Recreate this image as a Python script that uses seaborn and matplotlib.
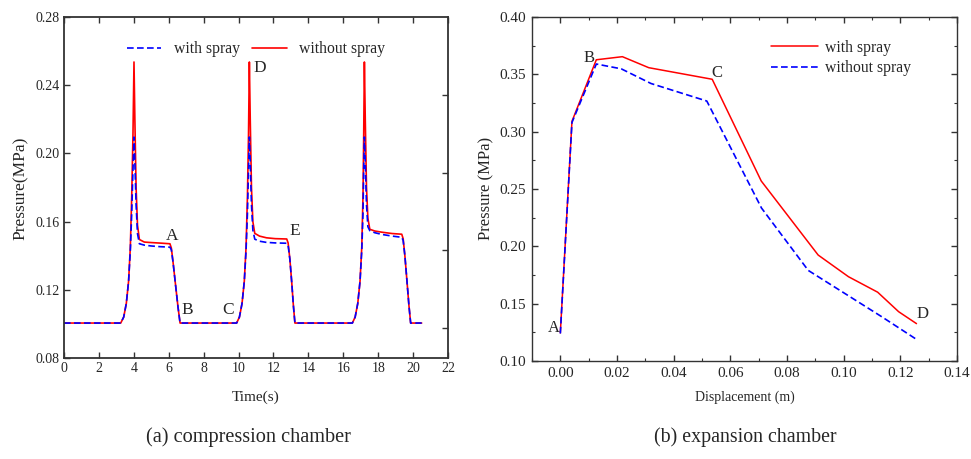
import numpy as np
import pandas as pd
import matplotlib
matplotlib.use("Agg")
import matplotlib.pyplot as plt
from matplotlib.lines import Line2D
from matplotlib.ticker import MultipleLocator
import seaborn as sns

# (a) 압축실: 사이클별 시간/압력
t1 = [0, 3.25, 3.42, 3.57, 3.70, 3.80, 3.88, 3.95, 4.01, 4.06, 4.13, 4.21, 4.32, 4.6, 5.0, 5.5, 6.07, 6.15, 6.25, 6.40, 6.53, 6.65]
red1 = [0.1005, 0.1005, 0.104, 0.112, 0.125, 0.145, 0.175, 0.21, 0.2536, 0.22, 0.18, 0.158, 0.1495, 0.148, 0.1477, 0.1474, 0.147, 0.1445, 0.136, 0.122, 0.110, 0.1005]
blue1 = [0.1005, 0.1005, 0.104, 0.112, 0.125, 0.143, 0.165, 0.19, 0.2096, 0.195, 0.17, 0.153, 0.147, 0.1462, 0.1457, 0.1453, 0.145, 0.1435, 0.136, 0.122, 0.110, 0.1005]

t2 = [9.89, 10.05, 10.2, 10.33, 10.43, 10.51, 10.57, 10.62, 10.67, 10.74, 10.82, 10.93, 11.2, 11.6, 12.1, 12.76, 12.84, 12.94, 13.05, 13.14, 13.23]
red2 = [0.1005, 0.104, 0.112, 0.125, 0.145, 0.175, 0.21, 0.2536, 0.22, 0.18, 0.16, 0.1531, 0.1515, 0.1505, 0.150, 0.1498, 0.1475, 0.138, 0.124, 0.111, 0.1005]
blue2 = [0.1005, 0.104, 0.112, 0.125, 0.143, 0.165, 0.19, 0.2096, 0.195, 0.17, 0.155, 0.1497, 0.1485, 0.1478, 0.1475, 0.1473, 0.146, 0.138, 0.124, 0.111, 0.1005]

t3 = [16.52, 16.68, 16.83, 16.96, 17.06, 17.13, 17.17, 17.21, 17.26, 17.33, 17.41, 17.52, 17.8, 18.2, 18.8, 19.35, 19.43, 19.53, 19.65, 19.76, 19.86, 20.49]
red3 = [0.1005, 0.104, 0.112, 0.125, 0.145, 0.175, 0.21, 0.2536, 0.22, 0.18, 0.162, 0.1555, 0.1545, 0.1538, 0.153, 0.1526, 0.150, 0.140, 0.125, 0.111, 0.1005, 0.1005]
blue3 = [0.1005, 0.104, 0.112, 0.125, 0.143, 0.165, 0.19, 0.2096, 0.195, 0.17, 0.157, 0.1547, 0.1535, 0.1525, 0.1515, 0.1508, 0.149, 0.140, 0.125, 0.111, 0.1005, 0.1005]

# (b) 팽창실: 변위/압력
disp_with = [0.0, 0.0041, 0.0127, 0.0219, 0.0312, 0.0536, 0.0709, 0.091, 0.1017, 0.112, 0.1194, 0.1257]
p_with = [0.1245, 0.309, 0.3627, 0.3654, 0.3558, 0.3457, 0.257, 0.1924, 0.1735, 0.160, 0.143, 0.1326]
disp_without = [0.0, 0.0041, 0.0127, 0.0215, 0.032, 0.0517, 0.071, 0.0875, 0.1135, 0.1253]
p_without = [0.124, 0.308, 0.359, 0.3548, 0.342, 0.3267, 0.2334, 0.179, 0.1385, 0.1195]

labels_a = {"A": (6.19, 0.1515), "B": (7.05, 0.108), "C": (9.4, 0.108), "D": (11.23, 0.25), "E": (13.23, 0.1545)}
labels_b = {"A": (-0.0024, 0.1285), "B": (0.010, 0.364), "C": (0.0554, 0.351), "D": (0.1278, 0.1407)}

sns.set_style("ticks")
plt.rcParams['font.family'] = ['Liberation Serif', 'DejaVu Serif']
plt.rcParams['xtick.direction'] = 'in'
plt.rcParams['ytick.direction'] = 'in'

RED = "#ff0000"
BLUE = "#0000ff"
DASH = (4, 2)

fig = plt.figure(figsize=(9.71, 4.59), dpi=100)
ax1 = fig.add_axes([64 / 971, 1 - 358 / 459, 384 / 971, 341 / 459])
ax2 = fig.add_axes([532 / 971, 1 - 361 / 459, 425 / 971, 344 / 459])

# ---- (a)
df_a = pd.DataFrame({
    "t": t1 + t2 + t3,
    "red": red1 + red2 + red3,
    "blue": blue1 + blue2 + blue3,
})
sns.lineplot(data=df_a, x="t", y="red", ax=ax1, color=RED, lw=1.2, sort=False, estimator=None)
sns.lineplot(data=df_a, x="t", y="blue", ax=ax1, color=BLUE, lw=1.2, sort=False, estimator=None,
             linestyle=(0, DASH))
ax1.set_xlim(0, 22)
ax1.set_ylim(0.08, 0.28)
ax1.set_xticks(np.arange(0, 23, 2))
ax1.set_yticks([0.08, 0.12, 0.16, 0.20, 0.24, 0.28])
ax1.set_yticklabels(["0.08", "0.12", "0.16", "0.20", "0.24", "0.28"])
ax1.set_xlabel("")
ax1.set_ylabel("")
ax1.tick_params(labelsize=10, top=True, length=4, width=1, color="#333333", pad=3)
for s in ax1.spines.values():
    s.set_visible(True)
    s.set_color("#333333")
    s.set_linewidth(1.3)
tw = ax1.twinx()
tw.set_ylim(0.08, 0.28)
tw.set_yticks([0.0976, 0.1433, 0.1885, 0.2343])
tw.tick_params(labelright=False, length=4, width=1, color="#333333", direction="in")
for s in tw.spines.values():
    s.set_visible(False)
for k, (x, y) in labels_a.items():
    ax1.text(x, y, k, fontsize=12.5, ha="center", va="center")
h_a = [Line2D([], [], color=BLUE, lw=1.2, linestyle=(0, DASH)), Line2D([], [], color=RED, lw=1.2)]
ax1.legend(h_a, ["with spray", "without spray"], ncol=2, frameon=False, fontsize=11.3,
           loc="upper center", bbox_to_anchor=(0.5, 0.97), handlelength=2.2, columnspacing=0.8,
           handletextpad=0.8)

# ---- (b)
df_b1 = pd.DataFrame({"d": disp_with, "p": p_with})
df_b2 = pd.DataFrame({"d": disp_without, "p": p_without})
sns.lineplot(data=df_b1, x="d", y="p", ax=ax2, color=RED, lw=1.1, sort=False, estimator=None)
sns.lineplot(data=df_b2, x="d", y="p", ax=ax2, color=BLUE, lw=1.2, sort=False, estimator=None,
             linestyle=(0, DASH))
ax2.set_xlim(-0.01, 0.14)
ax2.set_ylim(0.10, 0.40)
ax2.xaxis.set_minor_locator(MultipleLocator(0.01))
ax2.yaxis.set_minor_locator(MultipleLocator(0.025))
ax2.set_xticks(np.arange(0, 0.141, 0.02))
ax2.set_xticklabels(["0.00", "0.02", "0.04", "0.06", "0.08", "0.10", "0.12", "0.14"])
ax2.set_yticks(np.arange(0.10, 0.401, 0.05))
ax2.set_yticklabels(["0.10", "0.15", "0.20", "0.25", "0.30", "0.35", "0.40"])
ax2.set_xlabel("")
ax2.set_ylabel("")
ax2.tick_params(which="both", top=True, right=True, color="#333333")
ax2.tick_params(which="major", labelsize=11, length=4, width=1, pad=4)
ax2.tick_params(which="minor", length=2.5, width=0.8)
for s in ax2.spines.values():
    s.set_visible(True)
    s.set_color("#333333")
    s.set_linewidth(1.0)
for k, (x, y) in labels_b.items():
    ax2.text(x, y, k, fontsize=12, ha="center", va="center")
h_b = [Line2D([], [], color=RED, lw=1.1), Line2D([], [], color=BLUE, lw=1.2, linestyle=(0, DASH))]
ax2.legend(h_b, ["with spray", "without spray"], frameon=False, fontsize=11.3,
           loc="upper left", bbox_to_anchor=(0.53, 0.975), handlelength=3.0, handletextpad=0.4,
           labelspacing=0.3)

# 축 라벨과 캡션
fig.text(21 / 971, 1 - 188 / 459, "Pressure(MPa)", rotation=90, ha="center", va="center", fontsize=12.5)
fig.text(486 / 971, 1 - 188 / 459, "Pressure (MPa)", rotation=90, ha="center", va="center", fontsize=12)
fig.text(256 / 971, 1 - 397 / 459, "Time(s)", ha="center", va="center", fontsize=11)
fig.text(745 / 971, 1 - 397 / 459, "Displacement (m)", ha="center", va="center", fontsize=10)
fig.text(248 / 971, 1 - 437 / 459, "(a) compression chamber", ha="center", va="center", fontsize=14.6)
fig.text(745 / 971, 1 - 437 / 459, "(b) expansion chamber", ha="center", va="center", fontsize=14.3)

fig.savefig("out.png", dpi=100)
